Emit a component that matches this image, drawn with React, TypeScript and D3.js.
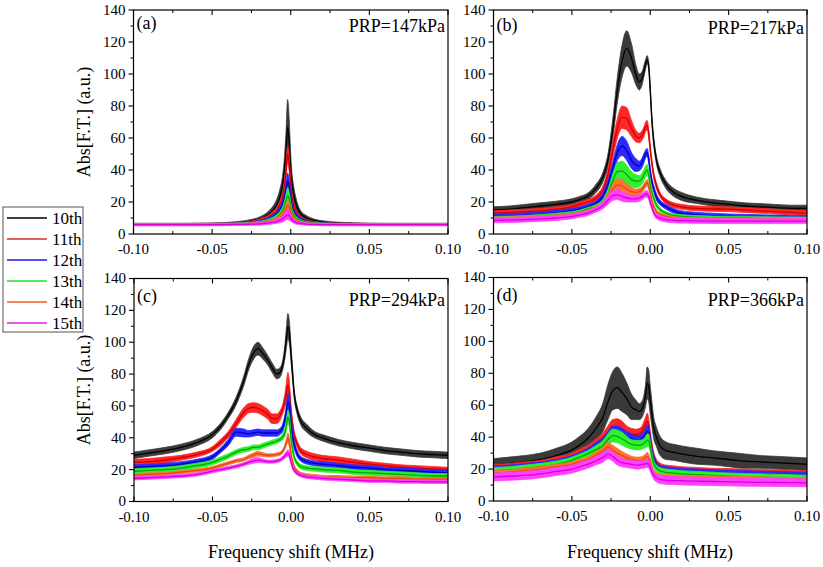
import React from 'react';
import * as d3 from 'd3';

// ---------- data ----------
const X = [-0.1, -0.09, -0.08, -0.07, -0.06, -0.05, -0.045, -0.04, -0.035, -0.03, -0.027, -0.024, -0.021, -0.018, -0.015, -0.012, -0.009, -0.007, -0.005, -0.004, -0.003, -0.002, -0.001, 0, 0.001, 0.002, 0.004, 0.006, 0.01, 0.015, 0.02, 0.03, 0.04, 0.05, 0.06, 0.07, 0.08, 0.09, 0.1];

const SERIES_NAMES = ['10th', '11th', '12th', '13th', '14th', '15th'];

// Panel (a) PRP=147kPa
const A10 = [6.2, 6.2, 6.2, 6.2, 6.3, 6.4, 6.5, 6.7, 7, 7.4, 7.8, 8.3, 9, 10, 11.5, 14, 18, 23, 32, 40, 52, 67, 58, 40, 30, 24, 17, 13, 10, 8.3, 7.5, 6.8, 6.5, 6.3, 6.2, 6.2, 6.2, 6.2, 6.2];
const A10E = [0.5, 0.5, 0.5, 0.5, 0.5, 0.5, 0.5, 0.6, 0.7, 0.8, 0.9, 1, 1.2, 1.5, 2, 2.5, 3.5, 4.5, 6, 8, 12, 17, 14, 9, 6, 5, 3, 2, 1.5, 1, 0.8, 0.6, 0.5, 0.5, 0.5, 0.5, 0.5, 0.5, 0.5];
const A11 = [6.1, 6.1, 6.1, 6.1, 6.2, 6.3, 6.4, 6.5, 6.7, 6.9, 7.2, 7.6, 8.2, 9, 10, 12, 14.5, 18, 24, 30, 39, 50, 44, 30, 22, 17.5, 13, 10.5, 8.5, 7.3, 6.8, 6.4, 6.3, 6.2, 6.1, 6.1, 6.1, 6.1, 6.1];
const A11E = [0.4, 0.4, 0.4, 0.4, 0.4, 0.4, 0.4, 0.4, 0.5, 0.5, 0.6, 0.7, 0.8, 1, 1.2, 1.5, 2, 2.5, 3, 3.5, 4.5, 5, 4.5, 3, 2, 1.5, 1, 0.8, 0.6, 0.5, 0.5, 0.4, 0.4, 0.4, 0.4, 0.4, 0.4, 0.4, 0.4];
const A12 = [6, 6, 6, 6, 6.1, 6.2, 6.3, 6.4, 6.5, 6.7, 6.9, 7.2, 7.6, 8.2, 9, 10.5, 12.5, 15, 19, 23, 28, 33, 30, 22, 17, 14, 11, 9.5, 8, 7, 6.6, 6.3, 6.2, 6.1, 6, 6, 6, 6, 6];
const A12E = [0.4, 0.4, 0.4, 0.4, 0.4, 0.4, 0.4, 0.4, 0.4, 0.5, 0.5, 0.6, 0.7, 0.8, 1, 1.2, 1.5, 2, 2.5, 3, 4, 5, 4, 3, 2, 1.5, 1, 0.7, 0.5, 0.5, 0.4, 0.4, 0.4, 0.4, 0.4, 0.4, 0.4, 0.4, 0.4];
const A13 = [6, 6, 6, 6, 6, 6.1, 6.2, 6.3, 6.4, 6.5, 6.6, 6.8, 7.1, 7.5, 8, 9, 10.5, 12, 15, 17.5, 21, 24, 22, 17, 13.5, 11.5, 9.5, 8.5, 7.3, 6.7, 6.4, 6.2, 6.1, 6, 6, 6, 6, 6, 6];
const A13E = [0.4, 0.4, 0.4, 0.4, 0.4, 0.4, 0.4, 0.4, 0.4, 0.5, 0.5, 0.6, 0.7, 0.8, 1, 1.2, 1.5, 2, 2.5, 3, 4, 5, 4, 3, 2, 1.5, 1, 0.7, 0.5, 0.5, 0.4, 0.4, 0.4, 0.4, 0.4, 0.4, 0.4, 0.4, 0.4];
const A14 = [5.9, 5.9, 5.9, 5.9, 5.9, 6, 6, 6.1, 6.2, 6.3, 6.4, 6.5, 6.7, 7, 7.4, 8, 9, 10, 12, 13.5, 16, 18, 17, 13.5, 11, 9.5, 8, 7.3, 6.6, 6.2, 6, 5.9, 5.9, 5.9, 5.9, 5.9, 5.9, 5.9, 5.9];
const A14E = [0.4, 0.4, 0.4, 0.4, 0.4, 0.4, 0.4, 0.4, 0.4, 0.4, 0.5, 0.5, 0.6, 0.7, 0.8, 1, 1.3, 1.6, 2, 2.3, 2.7, 3, 2.7, 2, 1.5, 1.2, 0.9, 0.7, 0.5, 0.5, 0.4, 0.4, 0.4, 0.4, 0.4, 0.4, 0.4, 0.4, 0.4];
const A15 = [5.8, 5.8, 5.8, 5.8, 5.8, 5.8, 5.9, 5.9, 6, 6, 6.1, 6.2, 6.3, 6.5, 6.8, 7.2, 7.8, 8.5, 9.5, 10.5, 11.5, 12, 11.5, 10, 8.8, 8, 7, 6.6, 6.2, 6, 5.9, 5.8, 5.8, 5.8, 5.8, 5.8, 5.8, 5.8, 5.8];
const A15E = [0.7, 0.7, 0.7, 0.7, 0.7, 0.7, 0.7, 0.7, 0.7, 0.7, 0.7, 0.7, 0.8, 0.8, 0.9, 1, 1.2, 1.5, 2, 2.3, 2.7, 3, 2.7, 2, 1.5, 1.2, 1, 0.8, 0.7, 0.7, 0.7, 0.7, 0.7, 0.7, 0.7, 0.7, 0.7, 0.7, 0.7];

// Panel (b) PRP=217kPa
const B10 = [15, 15.5, 16.5, 17.5, 18.5, 20, 21.5, 23.5, 28, 36, 46, 65, 90, 108, 116, 110, 99, 95, 98, 102, 106, 109, 105, 90, 72, 60, 46, 39, 31, 26, 23.5, 21, 19.5, 18.5, 17.5, 17, 16.5, 16, 16];
const B10E = [2, 2, 2, 2, 2, 2, 2, 2, 2.5, 3, 4, 6, 8, 10, 11, 9, 6, 5, 4, 3.5, 3, 2.5, 2.5, 2.5, 2.5, 2.5, 2.5, 2.5, 2.5, 2.5, 2.5, 2, 2, 2, 2, 2, 2, 2, 2];
const B11 = [13, 13.5, 14, 14.5, 15.5, 17, 18.5, 20, 22, 28, 37, 52, 66, 73, 72, 66, 61, 60, 62, 64, 67, 68, 63, 53, 45, 38, 30, 25, 20.5, 18, 17, 16, 15.7, 15.5, 15, 14.5, 14, 13.5, 13];
const B11E = [1.5, 1.5, 1.5, 1.5, 1.5, 1.5, 1.5, 1.5, 2, 2.5, 3.5, 5, 6, 7, 7, 5, 3.5, 3, 3, 3, 3, 3, 3, 2.5, 2, 2, 2, 1.5, 1.5, 1.5, 1.5, 1.5, 1.5, 1.5, 1.5, 1.5, 1.5, 1.5, 1.5];
const B12 = [11, 11.3, 11.7, 12.3, 13.3, 14.5, 15.5, 17, 19, 24, 31, 41, 51, 55, 52, 46, 43, 42.5, 45, 47.5, 50, 51, 47, 39, 33, 29, 23, 20, 17, 14.5, 13, 12, 11.5, 11, 10.8, 10.5, 10.3, 10.2, 10];
const B12E = [1.5, 1.5, 1.5, 1.5, 1.5, 1.5, 1.5, 1.5, 1.5, 2, 2.5, 3.5, 5, 6, 6, 5, 4, 3, 3, 3, 2.5, 2.5, 2.5, 2.5, 2, 2, 2, 1.5, 1.5, 1.5, 1.5, 1.5, 1.5, 1.5, 1.5, 1.5, 1.5, 1.5, 1.5];
const B13 = [10, 10.2, 10.5, 11.2, 12, 13, 14, 15.5, 17, 20, 25, 33, 39, 39.5, 37, 34, 33, 33, 35, 37, 39, 40, 37, 31, 26, 23, 18, 15.5, 13, 11.5, 11, 10.5, 10.2, 10, 10, 9.8, 9.7, 9.6, 9.5];
const B13E = [1, 1, 1, 1, 1, 1, 1, 1, 1.2, 1.5, 2.5, 4, 5.5, 6, 6, 5, 4, 3.5, 3.5, 3.5, 3.5, 3.5, 3, 2.5, 2, 1.5, 1.5, 1.2, 1, 1, 1, 1, 1, 1, 1, 1, 1, 1, 1];
const B14 = [9.5, 9.7, 10, 10.5, 11, 12, 13, 14, 16, 19, 23, 28, 30.5, 30, 28, 26.5, 26, 26.5, 28, 29.5, 31, 32, 30, 25, 21, 18, 14, 12.5, 11, 10, 9.5, 9.3, 9.2, 9, 9, 9, 9, 9, 9];
const B14E = [1, 1, 1, 1, 1, 1, 1, 1, 1.2, 1.5, 2, 3, 4, 4, 3.5, 2.5, 2, 2, 2, 2, 2, 2, 2, 1.5, 1.5, 1.2, 1, 1, 1, 1, 1, 1, 1, 1, 1, 1, 1, 1, 1];
const B15 = [8.5, 8.7, 9, 9.5, 10, 11, 12, 13, 15, 18, 21, 24, 24.5, 23.5, 22.5, 22, 22, 22.5, 23.5, 24.3, 25, 25, 23.5, 20, 17, 14, 11, 10, 9, 8.5, 8.3, 8.2, 8.1, 8, 8, 8, 8, 8, 8];
const B15E = [1.5, 1.5, 1.5, 1.5, 1.5, 1.5, 1.5, 1.5, 1.5, 2, 2.5, 3, 3, 3, 2.5, 2, 2, 2, 2, 2, 2, 2, 2, 2, 1.5, 1.5, 1.5, 1.5, 1.5, 1.5, 1.5, 1.5, 1.5, 1.5, 1.5, 1.5, 1.5, 1.5, 1.5];

// Panel (c) PRP=294kPa
const C10 = [29, 30.5, 32, 34, 37, 42, 47, 54, 63, 76, 86, 93, 96, 93, 89, 84, 80, 81, 87, 93, 102, 110, 106, 93, 80, 68, 57, 51, 46, 42, 40, 37, 35, 33.5, 32, 31, 30, 29.5, 29];
const C10E = [2, 2, 2, 2, 2, 2, 2, 2, 2.5, 3, 3.5, 4, 4, 3.5, 3, 3, 3, 3, 3, 4, 6, 8, 7, 5, 4, 3, 2.5, 2.5, 2.5, 2, 2, 2, 2, 2, 2, 2, 2, 2, 2];
const C11 = [24.5, 25, 26, 27.5, 29.5, 33, 37, 42, 49, 56, 58.5, 59, 58.5, 57, 55, 52, 52, 54, 59, 63, 68, 73, 68, 56, 48, 42, 36, 32, 29.5, 28, 27, 26, 24.5, 23.5, 22.5, 21.5, 21, 20.5, 20];
const C11E = [2, 2, 2, 1.5, 1.5, 1.5, 2, 2, 2.5, 3, 3, 3, 3, 3, 3, 3, 3, 3, 3, 4, 6, 8, 7, 5, 3, 2.5, 2, 2, 2, 2, 2, 2, 2, 1.5, 1.5, 1.5, 1.5, 1.5, 1.5];
const C12 = [21.5, 22, 22.5, 23.5, 25, 28, 32, 37, 43.5, 43, 42.5, 43, 43.5, 43, 43, 43, 43, 44, 47, 51, 56, 63, 60, 48, 41, 36, 30, 27, 25, 24, 23.5, 22.5, 21.5, 21, 20, 19.5, 19, 18.5, 18];
const C12E = [1.5, 1.5, 1.5, 1.5, 1.5, 1.5, 1.5, 2, 2.5, 2.5, 2, 2, 2, 2, 2, 2, 2, 2, 2.5, 3, 4, 5, 6, 5, 4, 3, 2, 1.5, 1.5, 1.5, 1.5, 1.5, 1.5, 1.5, 1.5, 1.5, 1.5, 1.5, 1.5];
const C13 = [19, 19.5, 20, 21, 22.5, 24.5, 26.5, 28.5, 31, 32.5, 33, 34, 34, 35, 36, 37, 38, 39, 41, 43, 47, 53, 50, 40, 33, 28, 24, 22, 21, 20.5, 20, 19.5, 18.5, 18, 17.5, 17, 16.5, 16, 16];
const C13E = [1.5, 1.5, 1.5, 1.5, 1.5, 1.5, 1.5, 1.5, 1.5, 1.5, 1.5, 1.5, 1.5, 1.5, 1.5, 1.5, 1.5, 1.5, 2, 2.5, 3, 4, 4, 3, 2, 1.5, 1.5, 1.5, 1.5, 1.5, 1.5, 1.5, 1.5, 1.5, 1.5, 1.5, 1.5, 1.5, 1.5];
const C14 = [16.5, 17, 17.5, 18.5, 19.5, 21, 22.5, 24, 25.5, 26.5, 28, 29, 30, 29.5, 29, 29, 29.5, 30, 32, 34, 37, 40, 37, 30, 25, 22, 19, 17.5, 16.5, 16, 15.5, 15.3, 15, 15, 14.5, 14.5, 14, 14, 14];
const C14E = [1, 1, 1, 1, 1, 1, 1, 1, 1, 1, 1.2, 1.5, 1.5, 1.2, 1, 1, 1, 1, 1.2, 1.5, 2, 3, 3, 2, 1.5, 1, 1, 1, 1, 1, 1, 1, 1, 1, 1, 1, 1, 1, 1];
const C15 = [14.5, 15, 15.5, 16, 17, 19, 20, 21, 22, 23.5, 24.5, 25.5, 26, 25.5, 25, 25, 25.5, 26, 27.5, 28.5, 29.5, 30.5, 29, 25, 21.5, 19.5, 17.5, 16.5, 15.5, 15, 14.5, 14, 13.5, 13, 13, 12.5, 12.5, 12.3, 12.3];
const C15E = [1, 1, 1, 1, 1, 1, 1, 1, 1, 1, 1.2, 1.5, 1.5, 1.2, 1, 1, 1, 1, 1.2, 1.5, 1.8, 2, 2, 1.5, 1.2, 1, 1, 1, 1, 1, 1, 1, 1, 1, 1, 1, 1, 1, 1];

// Panel (d) PRP=366kPa
const D10 = [22.5, 23.5, 24.5, 26, 28.5, 32, 35, 39, 45, 53, 62, 69, 71, 68, 64, 59, 57, 56, 58, 61, 66, 74, 72, 63, 55, 47, 40, 35, 31.5, 30.5, 29.5, 28, 27, 26, 25, 24.5, 24, 23.5, 23];
const D10E = [4, 4, 4, 4, 4.5, 5, 5.5, 6, 7, 9, 11, 12, 13, 12, 10, 8, 6, 5, 5, 5.5, 7, 10, 10, 9, 8, 7, 6, 6, 5.5, 5, 5, 5, 4.5, 4.5, 4.5, 4, 4, 4, 4];
const D11 = [21, 21.5, 22.5, 23.5, 25.5, 28, 30, 32.5, 35.5, 39.5, 43, 46, 46.5, 45, 43, 42, 41.5, 42, 44, 46, 48, 50, 47, 40, 34, 29, 24, 22, 20.5, 20, 19.5, 19, 18.5, 18.3, 18, 17.8, 17.5, 17.3, 17];
const D11E = [2, 2, 2, 2, 2, 2, 2.5, 2.5, 3, 3.5, 4, 5, 5, 5, 4, 3.5, 3.5, 3.5, 3.5, 4, 4.5, 5, 5, 4, 3, 2.5, 2, 2, 2, 2, 2, 2, 2, 2, 2, 2, 2, 2, 2];
const D12 = [20, 20.5, 21.5, 22.5, 24, 26.5, 28.5, 31, 34, 37, 40, 43, 43, 41.5, 40, 39, 38, 38, 39.5, 40.5, 42, 43.5, 43, 37, 31, 27, 22.5, 20.5, 19.5, 19, 18.5, 18, 17.5, 17.2, 17, 16.7, 16.5, 16.3, 16];
const D12E = [2, 2, 2, 2, 2, 2, 2, 2, 2.5, 3, 3.5, 4, 4, 4, 3.5, 3, 3, 3, 3, 3, 3.5, 4, 4, 3.5, 3, 2.5, 2, 2, 2, 2, 2, 2, 2, 2, 2, 2, 2, 2, 2];
const D13 = [19, 19.5, 20.5, 21.5, 23, 25.5, 27.5, 29.5, 32, 35, 38.5, 41, 40.5, 39, 37, 35.5, 35, 35, 35.5, 36, 37, 38, 38, 34, 28, 24, 20.5, 19, 18, 17.5, 17, 16.5, 16, 15.5, 15.2, 15, 14.7, 14.5, 14.2];
const D13E = [2, 2, 2, 2, 2, 2, 2, 2, 2.5, 3, 3.5, 4, 4, 4, 3.5, 3, 3, 3, 3, 3, 3.5, 4, 4, 3.5, 3, 2.5, 2, 2, 2, 2, 2, 2, 2, 2, 2, 2, 2, 2, 2];
const D14 = [17.5, 18, 19, 20, 21.5, 23, 24.5, 26, 28.5, 31.5, 34, 32, 30, 28.5, 27, 26, 25.5, 25.5, 26, 26.5, 27.5, 28, 27, 24.5, 21, 18.5, 16.5, 15.5, 15, 14.8, 14.6, 14.4, 14.2, 14, 13.8, 13.6, 13.4, 13.2, 13];
const D14E = [1.5, 1.5, 1.5, 1.5, 1.5, 1.5, 1.5, 1.5, 2, 2.5, 3, 3, 3, 2.5, 2.5, 2, 2, 2, 2, 2, 2, 2.5, 2.5, 2, 1.5, 1.5, 1.5, 1.5, 1.5, 1.5, 1.5, 1.5, 1.5, 1.5, 1.5, 1.5, 1.5, 1.5, 1.5];
const D15 = [15, 15.5, 16, 17, 18.5, 20, 21.5, 23, 25, 27.5, 29.5, 28, 25.5, 24, 23.5, 23, 22.5, 22.5, 23, 23, 23.5, 23.5, 23, 21, 18.5, 16.5, 14.5, 13.5, 13, 12.8, 12.6, 12.4, 12.2, 12, 11.8, 11.7, 11.6, 11.5, 11.4];
const D15E = [2.5, 2.5, 2.5, 2.5, 2.5, 2.5, 2.5, 2.5, 2.5, 3, 3, 3, 3, 2.5, 2.5, 2.5, 2.5, 2.5, 2.5, 2.5, 2.5, 2.5, 2.5, 2.5, 2.5, 2.5, 2.5, 2.5, 2.5, 2.5, 2.5, 2.5, 2.5, 2.5, 2.5, 2.5, 2.5, 2.5, 2.5];

const PANEL_TAGS = ['(a)', '(b)', '(c)', '(d)'];
const PANEL_PRP = ['PRP=147kPa', 'PRP=217kPa', 'PRP=294kPa', 'PRP=366kPa'];
const PANEL_MEANS = [
  [A10, A11, A12, A13, A14, A15],
  [B10, B11, B12, B13, B14, B15],
  [C10, C11, C12, C13, C14, C15],
  [D10, D11, D12, D13, D14, D15],
];
const PANEL_ERRS = [
  [A10E, A11E, A12E, A13E, A14E, A15E],
  [B10E, B11E, B12E, B13E, B14E, B15E],
  [C10E, C11E, C12E, C13E, C14E, C15E],
  [D10E, D11E, D12E, D13E, D14E, D15E],
];

const X_TICKS = [-0.1, -0.05, 0, 0.05, 0.1];
const X_TICK_LABELS = ['-0.10', '-0.05', '0.00', '0.05', '0.10'];
const X_MINOR = [-0.075, -0.025, 0.025, 0.075];
const Y_TICKS = [0, 20, 40, 60, 80, 100, 120, 140];
const Y_MINOR = [10, 30, 50, 70, 90, 110, 130];

// ---------- styling ----------
const BAND_COLORS = ['#3a3a3a', '#ff2626', '#2a2aff', '#30f030', '#ff7236', '#ff40ff'];
const LINE_COLORS = ['#000000', '#d00000', '#0000c0', '#00a800', '#e24a10', '#d800d8'];
const LEGEND_COLORS = ['#000000', '#e02a2a', '#1818e8', '#22e022', '#f05a28', '#e020e0'];
const FONT = "'Liberation Serif', 'Times New Roman', 'DejaVu Serif', serif";
const TXT = { fontFamily: FONT };

// layout per panel: [left, right, top, bottom, tagBaseline, prpBaseline]
const LAYOUT = [
  [133.5, 448, 10, 234, 29, 31.5],
  [493.5, 807, 10, 234, 31, 34],
  [134, 448, 278.5, 501.5, 302, 306],
  [493.5, 807, 277.5, 501, 301, 306],
];

function Panel({ idx }: { idx: number }) {
  const [l, r, t, b, tagY, prpY] = LAYOUT[idx];
  const x = d3.scaleLinear().domain([-0.1, 0.1]).range([l, r]);
  const y = d3.scaleLinear().domain([0, 140]).range([b, t]);
  const means = PANEL_MEANS[idx];
  const errs = PANEL_ERRS[idx];
  const clipId = `clip${idx}`;
  return (
    <g>
      <defs>
        <clipPath id={clipId}>
          <rect x={l} y={t} width={r - l} height={b - t} />
        </clipPath>
      </defs>
      <g clipPath={`url(#${clipId})`}>
        {means.map((m, si) => {
          const e = errs[si];
          const area = d3
            .area<number>()
            .x((_, i) => x(X[i]))
            .y0((v, i) => y(v - e[i]))
            .y1((v, i) => y(v + e[i]))
            .curve(d3.curveMonotoneX);
          const line = d3
            .line<number>()
            .x((_, i) => x(X[i]))
            .y((v) => y(v))
            .curve(d3.curveMonotoneX);
          return (
            <g key={si}>
              <path d={area(m) || ''} fill={BAND_COLORS[si]} stroke={BAND_COLORS[si]} strokeWidth={0.8} />
              <path d={line(m) || ''} fill="none" stroke={LINE_COLORS[si]} strokeWidth={1.3} />
            </g>
          );
        })}
      </g>
      <rect x={l} y={t} width={r - l} height={b - t} fill="none" stroke="#000" strokeWidth={1.2} />
      {X_TICKS.map((v) => (
        <g key={'xt' + v}>
          <line x1={x(v)} x2={x(v)} y1={b} y2={b - 5} stroke="#000" strokeWidth={1.1} />
          <line x1={x(v)} x2={x(v)} y1={t} y2={t + 5} stroke="#000" strokeWidth={1.1} />
        </g>
      ))}
      {X_MINOR.map((v) => (
        <g key={'xm' + v}>
          <line x1={x(v)} x2={x(v)} y1={b} y2={b - 3} stroke="#000" strokeWidth={1} />
          <line x1={x(v)} x2={x(v)} y1={t} y2={t + 3} stroke="#000" strokeWidth={1} />
        </g>
      ))}
      {X_TICKS.map((v, i) => (
        <text key={'xl' + v} x={x(v)} y={b + 20} textAnchor="middle" fontSize={15} style={TXT} fill="#000">
          {X_TICK_LABELS[i]}
        </text>
      ))}
      {Y_TICKS.map((v) => (
        <g key={'yt' + v}>
          <line x1={l} x2={l - 5} y1={y(v)} y2={y(v)} stroke="#000" strokeWidth={1.1} />
          <text x={l - 8} y={y(v)} dy="0.33em" textAnchor="end" fontSize={15} style={TXT} fill="#000">
            {v}
          </text>
        </g>
      ))}
      {Y_MINOR.map((v) => (
        <line key={'ym' + v} x1={l} x2={l - 3} y1={y(v)} y2={y(v)} stroke="#000" strokeWidth={1} />
      ))}
      <text x={l + 3} y={tagY} fontSize={18} style={TXT} fill="#000">
        {PANEL_TAGS[idx]}
      </text>
      <text x={r - 3} y={prpY} textAnchor="end" fontSize={18} style={TXT} fill="#000">
        {PANEL_PRP[idx]}
      </text>
    </g>
  );
}

export default function App() {
  const legendRowY = (i: number) => 218 + i * 21;
  return (
    <svg width={823} height={567} style={{ position: 'fixed', left: 0, top: 0, background: '#fff', fontFamily: FONT }}>
      <rect x={0} y={0} width={823} height={567} fill="#fff" />
      {[0, 1, 2, 3].map((i) => (
        <Panel key={i} idx={i} />
      ))}
      <text transform="translate(90,122) rotate(-90)" textAnchor="middle" fontSize={18} style={TXT}>
        Abs[F.T.] (a.u.)
      </text>
      <text transform="translate(90,390) rotate(-90)" textAnchor="middle" fontSize={18} style={TXT}>
        Abs[F.T.] (a.u.)
      </text>
      <text x={291} y={558} textAnchor="middle" fontSize={18} style={TXT}>
        Frequency shift (MHz)
      </text>
      <text x={650} y={558} textAnchor="middle" fontSize={18} style={TXT}>
        Frequency shift (MHz)
      </text>
      <rect x={3} y={207} width={80} height={125} fill="#fff" stroke="#555" strokeWidth={1} />
      {SERIES_NAMES.map((name, i) => (
        <g key={name}>
          <line x1={7} x2={47} y1={legendRowY(i)} y2={legendRowY(i)} stroke={LEGEND_COLORS[i]} strokeWidth={1.6} />
          <text x={52} y={legendRowY(i) + 6} fontSize={17} style={TXT} fill="#000">
            {name}
          </text>
        </g>
      ))}
    </svg>
  );
}
